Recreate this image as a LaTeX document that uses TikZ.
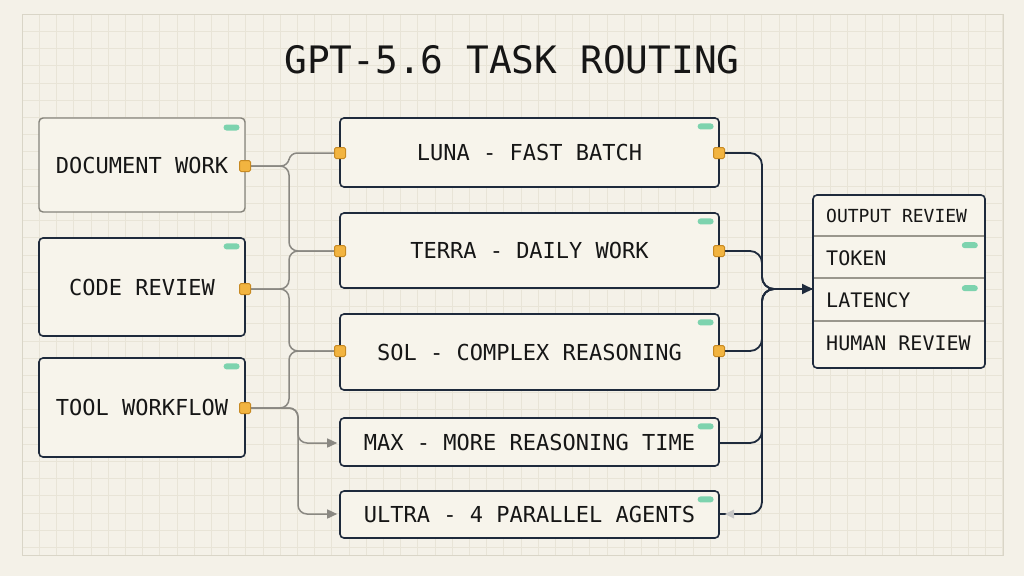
\documentclass[tikz,border=0pt]{standalone}
\usepackage{fontspec}
\setmainfont{DejaVu Sans Mono}
\usetikzlibrary{calc,arrows.meta}
\definecolor{bgc}{HTML}{F4F1E8}
\definecolor{gridc}{HTML}{E8E4D7}
\definecolor{gridb}{HTML}{D9D5C7}
\definecolor{boxfill}{HTML}{F7F4EB}
\definecolor{navy}{HTML}{1E2A3C}
\definecolor{greyb}{HTML}{85837B}
\definecolor{gline}{HTML}{8A8882}
\definecolor{portfill}{HTML}{F2B440}
\definecolor{portline}{HTML}{C88A22}
\definecolor{mint}{HTML}{7DD3AE}
\definecolor{ink}{HTML}{161616}
\definecolor{sepc}{HTML}{9A978D}
\tikzset{
  box/.style={draw=navy, line width=1.6pt, fill=boxfill, rounded corners=4pt, inner sep=0pt, text=ink, font=\fontsize{22}{26}\selectfont},
  port/.style={draw=portline, fill=portfill, line width=1pt, minimum size=11pt, inner sep=0pt, rounded corners=1.5pt},
  pill/.style={fill=mint, rounded corners=3pt, minimum width=16pt, minimum height=6pt, inner sep=0pt},
  gconn/.style={draw=gline, line width=1.5pt, rounded corners=9pt},
  garrow/.style={gconn, -{Triangle[length=10pt,width=9pt]}, shorten >=2pt},
  nconn/.style={draw=navy, line width=1.8pt, rounded corners=12pt},
  rowtext/.style={anchor=west, inner sep=0pt, text=ink, font=\fontsize{20}{24}\selectfont},
}
\begin{document}
\begin{tikzpicture}[x=1pt,y=-1pt]
\useasboundingbox (0,0) rectangle (1024,576);
\fill[bgc] (0,0) rectangle (1024,576);
% grid
\begin{scope}
\clip (22,14) rectangle (1003,555);
\foreach \i in {0,...,57} \draw[gridc, line width=0.6pt] ({22+\i*17.2},14) -- ({22+\i*17.2},555);
\foreach \j in {0,...,31} \draw[gridc, line width=0.6pt] (22,{14+\j*17.2}) -- (1003,{14+\j*17.2});
\end{scope}
\draw[gridb, line width=0.8pt] (22,14) rectangle (1003,555);

% title
\node[text=ink, font=\fontsize{37.8}{42}\selectfont, inner sep=0pt] (title) at (512,60) {GPT-5.6 TASK ROUTING};

% left boxes
\node[box, draw=greyb, line width=1.4pt, minimum width=206pt, minimum height=94pt] (doc) at (142,165) {DOCUMENT WORK};
\node[box, minimum width=206pt, minimum height=98pt] (code) at (142,287) {CODE REVIEW};
\node[box, minimum width=206pt, minimum height=99pt] (tool) at (142,407.5) {TOOL WORKFLOW};

% middle boxes
\node[box, minimum width=379pt, minimum height=69pt] (luna) at (529.5,152.5) {LUNA - FAST BATCH};
\node[box, minimum width=379pt, minimum height=75pt] (terra) at (529.5,250.5) {TERRA - DAILY WORK};
\node[box, minimum width=379pt, minimum height=76pt] (sol) at (529.5,352) {SOL - COMPLEX REASONING};
\node[box, minimum width=379pt, minimum height=48pt] (max) at (529.5,442) {MAX - MORE REASONING TIME};
\node[box, minimum width=379pt, minimum height=47pt] (ultra) at (529.5,514.5) {ULTRA - 4 PARALLEL AGENTS};

% output box
\node[box, minimum width=172pt, minimum height=173pt] (out) at (899,281.5) {};
\draw[sepc, line width=1.2pt] (813.8,236) -- (984.2,236);
\draw[sepc, line width=1.2pt] (813.8,278) -- (984.2,278);
\draw[sepc, line width=1.2pt] (813.8,321) -- (984.2,321);
\node[rowtext, font=\fontsize{18}{22}\selectfont] (orh) at (826,216) {OUTPUT REVIEW};
\node[rowtext] (ort) at (826,258) {TOKEN};
\node[rowtext] (orl) at (826,300) {LATENCY};
\node[rowtext] (orm) at (826,343) {HUMAN REVIEW};
\coordinate (outIn) at (813,289);

% pills
\node[pill, anchor=north east] (docG) at ($(doc.north east)+(-6,7)$) {};
\node[pill, anchor=north east] (codeG) at ($(code.north east)+(-6,6)$) {};
\node[pill, anchor=north east] (toolG) at ($(tool.north east)+(-6,6)$) {};
\node[pill, anchor=north east] (lunaG) at ($(luna.north east)+(-6,6)$) {};
\node[pill, anchor=north east] (terraG) at ($(terra.north east)+(-6,6)$) {};
\node[pill, anchor=north east] (solG) at ($(sol.north east)+(-6,6)$) {};
\node[pill, anchor=north east] (maxG) at ($(max.north east)+(-6,6)$) {};
\node[pill, anchor=north east] (ultraG) at ($(ultra.north east)+(-6,6)$) {};
\node[pill, anchor=north east] (tokG) at (978,242) {};
\node[pill, anchor=north east] (latG) at (978,285) {};

% grey connectors (left)
\draw[gconn, rounded corners=7pt] (245,166) -- (288,166) -- (290,153) -- (340,153);
\draw[gconn] (245,166) -- (289,166) -- (289,251) -- (340,251);
\draw[gconn] (245,289) -- (289,289) -- (289,251) -- (340,251);
\draw[gconn] (245,289) -- (289,289) -- (289,351) -- (340,351);
\draw[gconn] (245,408) -- (289,408) -- (289,351) -- (340,351);
\draw[garrow] (245,408) -- (298,408) -- (298,443) -- (max.west |- 0,443);
\draw[garrow] (245,408) -- (298,408) -- (298,514) -- (ultra.west |- 0,514);

% navy connectors (right)
\draw[nconn] (719,153) -- (762,153) -- (762,289) -- (outIn);
\draw[nconn] (719,251) -- (762,251) -- (762,289) -- (outIn);
\draw[nconn] (719,351) -- (762,351) -- (762,289) -- (outIn);
\draw[nconn] (max.east |- 0,443) -- (762,443) -- (762,289) -- (outIn);
\draw[nconn] (ultra.east |- 0,514) -- (762,514) -- (762,289) -- (outIn);
\draw[navy, line width=1.8pt, -{Triangle[length=11pt,width=10pt]}] (790,289) -- (outIn);
\fill[gray!45] (725,514) -- (734,509.5) -- (734,518.5) -- cycle;

% ports
\node[port] (docP) at (245,166) {};
\node[port] (codeP) at (245,289) {};
\node[port] (toolP) at (245,408) {};
\node[port] (lunaL) at (340,153) {};
\node[port] (terraL) at (340,251) {};
\node[port] (solL) at (340,351) {};
\node[port] (lunaR) at (719,153) {};
\node[port] (terraR) at (719,251) {};
\node[port] (solR) at (719,351) {};
\end{tikzpicture}
\end{document}
